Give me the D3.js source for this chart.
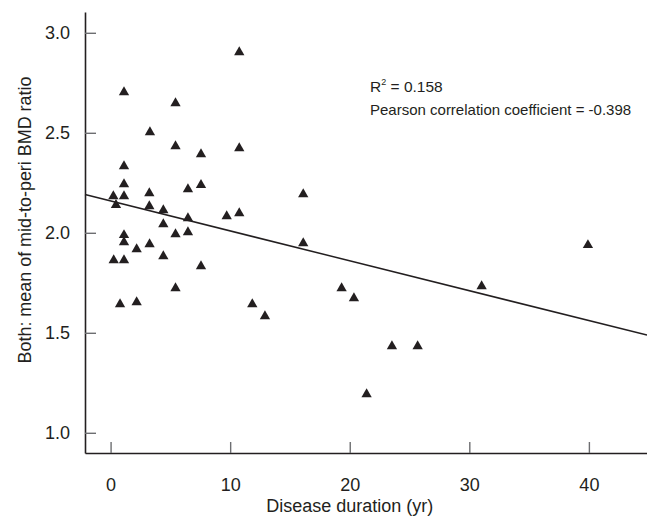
<!DOCTYPE html>
<html>
<head>
<meta charset="utf-8">
<script src="https://cdn.jsdelivr.net/npm/d3@7"></script>
<style>
	body { margin: 0; background: #fff; }
	text { font-family: "Liberation Sans Narrow", "Arial Narrow", "Liberation Sans", sans-serif; fill: #231f20; }
	.axis .domain { stroke: #231f20; stroke-width: 1.6; }
	.axis .tick line { stroke: #6d6e71; stroke-width: 1.4; }
	.axis .tick text { font-size: 18px; }
</style>
</head>
<body>
<svg id="chart" width="647" height="517"></svg>
<script>
/* global d3 */
// disease duration (yr) and mean mid-to-peri BMD ratio
const duration = [
	10.76, 1.12, 5.43, 3.29, 5.43, 10.76, 7.56, 1.12, 1.12, 6.47,
	7.56, 0.23, 1.12, 3.24, 0.45, 3.24, 4.41, 9.71, 10.76, 6.47,
	4.41, 5.43, 6.47, 1.12, 1.12, 2.18, 3.26, 0.26, 1.12, 4.41,
	7.56, 5.43, 0.79, 2.18, 11.85, 12.91, 16.11, 16.11, 19.32, 20.35,
	23.53, 25.68, 21.41, 31.03, 39.92
];
const ratio = [
	2.91, 2.71, 2.655, 2.51, 2.44, 2.43, 2.40, 2.34, 2.25, 2.225,
	2.247, 2.19, 2.19, 2.205, 2.147, 2.14, 2.12, 2.09, 2.105, 2.08,
	2.05, 2.00, 2.01, 1.996, 1.96, 1.925, 1.95, 1.87, 1.87, 1.89,
	1.84, 1.73, 1.65, 1.66, 1.65, 1.59, 2.20, 1.955, 1.73, 1.68,
	1.44, 1.44, 1.20, 1.74, 1.946
];
const xTicks = [0, 10, 20, 30, 40];
const yTicks = [1.0, 1.5, 2.0, 2.5, 3.0];
// fitted line: intercept, slope
const fit = [2.159, -0.01495];
const rSquared = '0.158';
const pearson = '-0.398';

const svg = d3.select('#chart'),
	margin = { top: 12, right: 0, bottom: 64, left: 85 },
	width = +svg.attr('width') - margin.left - margin.right,
	height = +svg.attr('height') - margin.top - margin.bottom,
	g = svg.append('g').attr('transform', 'translate(' + margin.left + ',' + margin.top + ')');

const x = d3.scaleLinear().domain([-2.14, 44.86]).range([0, width]);
const y = d3.scaleLinear().domain([0.899, 3.104]).range([height, 0]);

g.append('g')
	.attr('class', 'axis')
	.attr('transform', 'translate(0,' + height + ')')
	.call(d3.axisBottom(x).tickValues(xTicks).tickSizeInner(-11).tickSizeOuter(0).tickPadding(25).tickFormat(d3.format('d')));

g.append('g')
	.attr('class', 'axis')
	.call(d3.axisLeft(y).tickValues(yTicks).tickSizeInner(-11).tickSizeOuter(0).tickPadding(15).tickFormat(d3.format('.1f')));

g.selectAll('.axis text').attr('fill', '#231f20');

// regression line across the whole x range
const line = d3.line()
	.x(d => x(d))
	.y(d => y(fit[0] + fit[1] * d));

g.append('path')
	.datum(x.domain())
	.attr('d', line)
	.attr('fill', 'none')
	.attr('stroke', '#231f20')
	.attr('stroke-width', 1.5);

const triangle = d3.symbol().type(d3.symbolTriangle).size(46);

g.selectAll('.pt')
	.data(duration.map((d, i) => [d, ratio[i]]))
	.enter().append('path')
	.attr('class', 'pt')
	.attr('d', triangle)
	.attr('transform', d => 'translate(' + x(d[0]) + ',' + (y(d[1]) + 1.5) + ')')
	.attr('fill', '#231f20');

// annotation
const note = g.append('text')
	.attr('x', 285)
	.attr('y', 79.5)
	.attr('font-size', 15.5);
note.append('tspan').text('R');
note.append('tspan').attr('font-size', 9).attr('dy', -7).text('2');
note.append('tspan').attr('dy', 7).text(' = ' + rSquared);

g.append('text')
	.attr('x', 285)
	.attr('y', 103)
	.attr('font-size', 15)
	.text('Pearson correlation coefficient = ' + pearson);

// axis titles
svg.append('text')
	.attr('x', margin.left + x(20))
	.attr('y', 512)
	.attr('text-anchor', 'middle')
	.attr('font-size', 18)
	.text('Disease duration (yr)');

svg.append('text')
	.attr('transform', 'translate(31,' + 220 + ') rotate(-90)')
	.attr('text-anchor', 'middle')
	.attr('font-size', 18)
	.attr('textLength', 287)
	.attr('lengthAdjust', 'spacingAndGlyphs')
	.text('Both: mean of mid-to-peri BMD ratio');
</script>
</body>
</html>
